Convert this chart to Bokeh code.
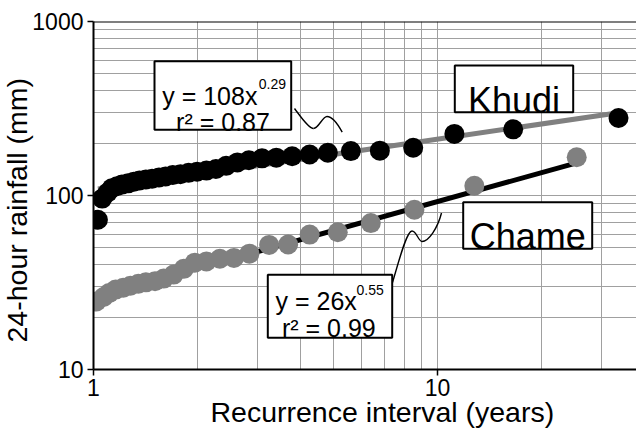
import math
from bokeh.plotting import figure
from bokeh.models import Range1d, FixedTicker, Label, BoxAnnotation, Span, Title
from bokeh.embed import file_html
from bokeh.resources import INLINE

# ---------------- data ----------------
khudi_T = [1.03, 1.06, 1.10, 1.13, 1.17, 1.21, 1.26, 1.31, 1.36, 1.42, 1.48,
           1.55, 1.62, 1.70, 1.79, 1.89, 2.00, 2.13, 2.27, 2.43, 2.62, 2.83,
           3.09, 3.40, 3.78, 4.25, 4.8, 5.6, 6.8, 8.5, 11.2, 16.6, 33.6]
khudi_mm = [72.5, 96, 104, 110, 113, 115.5, 117.5, 120, 122, 123.5, 125,
            127, 128.5, 131, 132.5, 135, 137, 139, 142, 148, 155, 159.5,
            163.5, 165, 168, 172, 176, 180, 181, 188, 226, 240, 279]

chame_T = [1.02, 1.07, 1.11, 1.16, 1.22, 1.28, 1.35, 1.42, 1.51, 1.60, 1.71,
           1.83, 1.97, 2.13, 2.33, 2.56, 2.84, 3.24, 3.68, 4.25, 5.13, 6.40,
           8.57, 12.8, 25.4]
chame_mm = [24.6, 26.1, 27.5, 28.8, 29.5, 30.3, 31.1, 31.7, 32.2, 33.3, 35.1,
            37.9, 41.1, 41.8, 43.3, 43.8, 46.3, 52.0, 52.3, 59.6, 61.5, 69.4,
            82.8, 113.7, 165.8]

fit_names = ["Khudi", "Chame"]
fit_coef = [108, 26]
fit_exp = [0.29, 0.55]
fit_r2 = ["0.87", "0.99"]

x_ticks = [1, 10]
x_tick_labels = ["1", "10"]
x_minor = [2, 3, 4, 5, 6, 7, 8, 9, 20, 30]
y_ticks = [10, 100, 1000]
y_tick_labels = ["10", "100", "1000"]
y_minor = [20, 30, 40, 50, 60, 70, 80, 90, 200, 300, 400, 500, 600, 700, 800, 900]

x_title = "Recurrence interval (years)"
y_title = "24-hour rainfall (mm)"

# ---------------- layout ----------------
W, H = 636, 433
FL, FR, FT, FB = 93, 636, 21, 369
XMIN, XMAX = 1.0, 37.9
YMIN, YMAX = 10.0, 1000.0
FONT = "Liberation Sans"
GRID = "#a0a0a0"
GRAY = "#808080"


def dx(px):
    a, b = math.log10(XMIN), math.log10(XMAX)
    return 10 ** (a + (px - FL) / (FR - FL) * (b - a))


def dy(py):
    a, b = math.log10(YMIN), math.log10(YMAX)
    return 10 ** (b - (py - FT) / (FB - FT) * (b - a))


p = figure(width=W, height=H, x_axis_type="log", y_axis_type="log",
           x_range=Range1d(XMIN, XMAX), y_range=Range1d(YMIN, YMAX),
           output_backend="svg", toolbar_location=None,
           min_border_left=FL, min_border_right=W - FR,
           min_border_top=FT, min_border_bottom=H - FB)
p.outline_line_color = None
p.background_fill_color = "white"
p.border_fill_color = "white"

xt = FixedTicker(ticks=x_ticks, minor_ticks=x_minor)
yt = FixedTicker(ticks=y_ticks, minor_ticks=y_minor)
p.xaxis.ticker = xt
p.yaxis.ticker = yt
p.xgrid.ticker = xt
p.ygrid.ticker = yt
p.xaxis.major_label_overrides = dict(zip(x_ticks, x_tick_labels))
p.yaxis.major_label_overrides = dict(zip(y_ticks, y_tick_labels))

for g in (p.xgrid, p.ygrid):
    g.grid_line_color = GRID
    g.grid_line_width = 1
    g.minor_grid_line_color = GRID
    g.minor_grid_line_width = 1

for ax in (p.xaxis, p.yaxis):
    ax.axis_line_color = "black"
    ax.axis_line_width = 2
    ax.major_tick_line_color = "black"
    ax.major_tick_line_width = 1.5
    ax.major_tick_out = 6
    ax.major_tick_in = 0
    ax.minor_tick_out = 0
    ax.minor_tick_in = 0
    ax.major_label_text_font = FONT
    ax.major_label_text_font_size = "23px"
    ax.major_label_text_color = "black"
p.yaxis.major_label_standoff = 4
p.xaxis.major_label_standoff = 3

p.add_layout(Span(location=YMAX, dimension="width", line_color="black", line_width=2))

# axis titles as side-panel titles, placed by offset from the frame's edge
p.add_layout(Title(text=x_title, align="left", offset=117, standoff=-5,
                   vertical_align="top",
                   text_font=FONT, text_font_size="28.5px", text_font_style="normal",
                   text_color="black"), "below")
p.add_layout(Title(text=y_title, align="left", offset=27, standoff=-7,
                   vertical_align="bottom",
                   text_font=FONT, text_font_size="28.5px", text_font_style="normal",
                   text_color="black"), "left")

# fit lines (straight on log-log), then points
series = [(khudi_T, khudi_mm, "black", GRAY), (chame_T, chame_mm, GRAY, "black")]
for (xs, ys, dot_col, line_col), a, b in zip(series, fit_coef, fit_exp):
    x0, x1 = min(xs), max(xs)
    p.line([x0, x1], [a * x0 ** b, a * x1 ** b], line_color=line_col, line_width=5)
for xs, ys, dot_col, line_col in series:
    p.scatter(xs, ys, size=20, fill_color=dot_col, line_color=None)

# leader lines (curly)
def curve(segs):
    p.bezier(x0=[dx(s[0][0]) for s in segs], y0=[dy(s[0][1]) for s in segs],
             cx0=[dx(s[1][0]) for s in segs], cy0=[dy(s[1][1]) for s in segs],
             cx1=[dx(s[2][0]) for s in segs], cy1=[dy(s[2][1]) for s in segs],
             x1=[dx(s[3][0]) for s in segs], y1=[dy(s[3][1]) for s in segs],
             line_color="black", line_width=1.4)

curve([((294, 108), (300, 116), (308, 128), (313, 128)),
       ((313, 128), (318, 128), (322, 116), (326.5, 116)),
       ((326.5, 116), (331, 116), (337, 123), (341.7, 131.7))])
curve([((392, 282), (398, 262), (406, 230.5), (411.5, 230.5)),
       ((411.5, 230.5), (416, 230.5), (418, 241), (421.5, 241)),
       ((421.5, 241), (428, 241), (437, 228), (441, 212.5))])

# boxes
def box(l, r, t, b):
    p.add_layout(BoxAnnotation(left=dx(l), right=dx(r), top=dy(t), bottom=dy(b),
                               fill_color="white", fill_alpha=1.0,
                               line_color="black", line_alpha=1.0, line_width=2,
                               level="annotation"))

def label(px, py, text, size, align="left", **kw):
    p.add_layout(Label(x=dx(px), y=dy(py), text=text, text_font=FONT,
                       text_font_size=size, text_color="black", text_align=align,
                       text_baseline="alphabetic", **kw))

box(154, 290.7, 60.7, 129.3)
label(161.7, 95, "y = %dx" % fit_coef[0], "25px")
label(258.3, 83.3, "%.2f" % fit_exp[0], "14px")
label(222.5, 121.7, "r\u00b2 = " + fit_r2[0], "25px", align="center")

box(267.3, 391.7, 274.3, 337.3)
label(275, 300.7, "y = %dx" % fit_coef[1], "25px")
label(356, 289.3, "%.2f" % fit_exp[1], "14px")
label(328.3, 327.7, "r\u00b2 = " + fit_r2[1], "25px", align="center")

box(454.3, 572.7, 65, 111.7)
label(513.5, 100, fit_names[0], "36px", align="center")
box(462.7, 591.7, 201.7, 248.3)
label(527.2, 236, fit_names[1], "36px", align="center")

open("out.html", "w").write(file_html(p, INLINE))
